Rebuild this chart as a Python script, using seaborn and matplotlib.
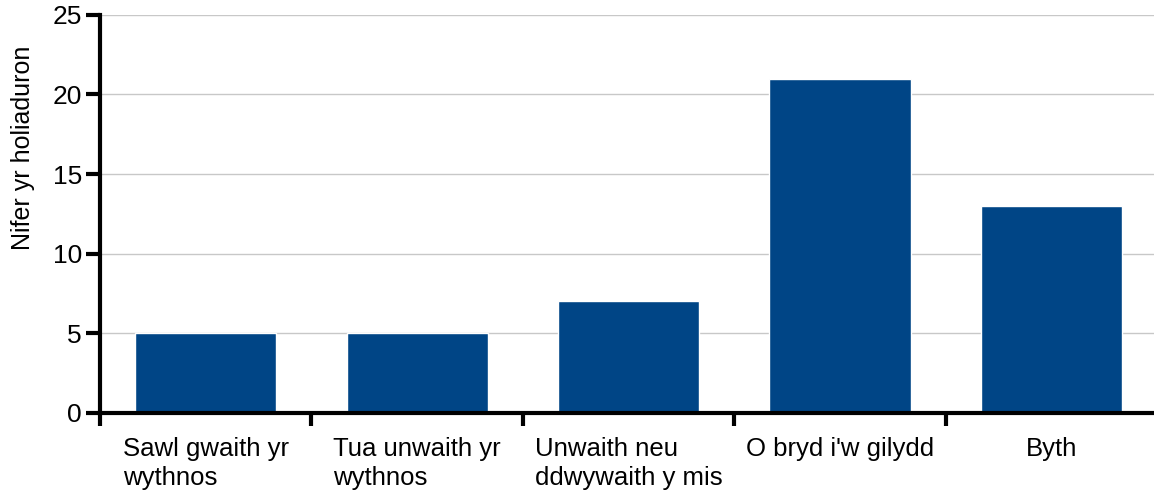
import matplotlib
matplotlib.use("Agg")
import matplotlib.pyplot as plt
import numpy as np
import pandas as pd
import seaborn as sns

# data
categories = [
    "Sawl gwaith yr\nwythnos",
    "Tua unwaith yr\nwythnos",
    "Unwaith neu\nddwywaith y mis",
    "O bryd i'w gilydd",
    "Byth",
]
counts = [5, 5, 7, 21, 13]
y_ticks = [0, 5, 10, 15, 20, 25]

sns.set_style("white")
plt.rcParams["font.family"] = ["Liberation Sans", "DejaVu Sans"]
plt.rcParams["text.color"] = "black"
plt.rcParams["axes.labelcolor"] = "black"
plt.rcParams["xtick.color"] = "black"
plt.rcParams["ytick.color"] = "black"

df = pd.DataFrame({"cat": categories, "n": counts})

fig = plt.figure(figsize=(11.54, 4.94), dpi=100)
ax = fig.add_axes([0.0867, 0.164, 0.916, 0.806])

sns.barplot(data=df, x="cat", y="n", color="#004586", width=0.667,
            saturation=1, ax=ax, zorder=3)

ax.set_xlim(-0.5, len(categories) - 0.5)
ax.set_ylim(0, 25)
ax.set_yticks(y_ticks)
ax.yaxis.grid(True, color="#c8c8c8", linewidth=1, zorder=0)
ax.set_axisbelow(True)

for s in ["top", "right"]:
    ax.spines[s].set_visible(False)
for s in ["left", "bottom"]:
    ax.spines[s].set_linewidth(3)
    ax.spines[s].set_color("black")
    ax.spines[s].set_zorder(5)

# category labels centred, ticks at the boundaries
ax.set_xticks(range(len(categories)))
ax.set_xticklabels(categories, fontsize=18.5, multialignment="left",
                   va="top", linespacing=1.3)
ax.set_xticks(np.arange(-0.5, len(categories)), minor=True)
ax.tick_params(axis="x", which="major", bottom=True, length=0, pad=17)
ax.tick_params(axis="x", which="minor", bottom=True, length=9, width=3,
               color="black", direction="out")
ax.tick_params(axis="y", length=10, width=3, color="black", direction="out",
               labelsize=19, pad=3, left=True)

ax.set_xlabel("")
ax.set_ylabel("Nifer yr holiaduron", fontsize=18)
ax.yaxis.set_label_coords(-0.0615, 0.666)

fig.savefig("out.png", dpi=100, facecolor="white")
